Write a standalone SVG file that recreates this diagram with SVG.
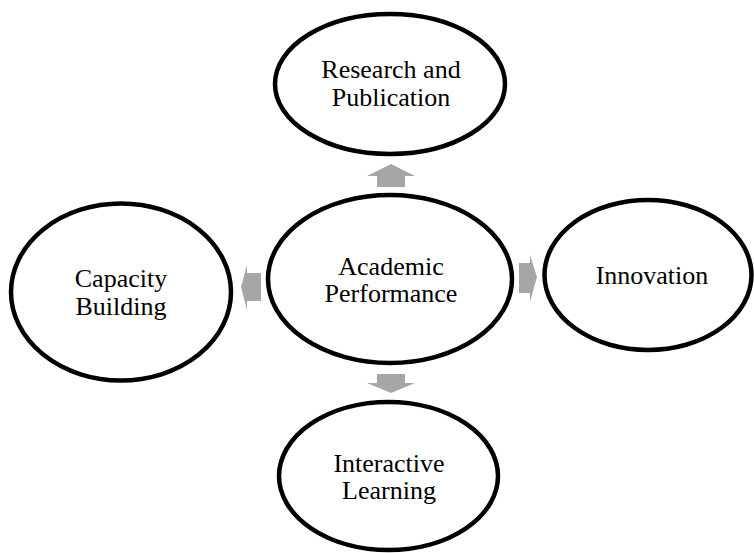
<svg xmlns="http://www.w3.org/2000/svg" width="754" height="553" viewBox="0 0 754 553">
<style>
.node ellipse{fill:#ffffff;stroke:#000000;stroke-width:4.5}
.node text{font-family:"Liberation Serif","Times New Roman",serif;font-size:26px;fill:#000000;text-anchor:middle}
.arrow{fill:#a6a6a6;stroke:none}
</style>
<rect width="754" height="553" fill="#ffffff"/>
<g id="connectors">
<polygon class="arrow" points="377,187 377,176 367,176 391,164 415,176 405,176 405,187"/>
<polygon class="arrow" points="377,374 405,374 405,383 415,383 391,393 367,383 377,383"/>
<polygon class="arrow" points="261,273 261,301 247,301 247,310 241,287 247,265 247,273"/>
<polygon class="arrow" points="519,263 530,263 530,255 537,277 530,302 530,293 519,293"/>
</g>
<g id="node-research" class="node">
<ellipse cx="390" cy="84" rx="115" ry="70"/>
<text x="391" y="78">Research and</text>
<text x="391" y="106">Publication</text>
</g>
<g id="node-academic" class="node">
<ellipse cx="390" cy="279" rx="122" ry="84"/>
<text x="391" y="275">Academic</text>
<text x="391" y="302">Performance</text>
</g>
<g id="node-capacity" class="node">
<ellipse cx="121" cy="292" rx="110" ry="88.5"/>
<text x="121" y="287">Capacity</text>
<text x="121" y="315">Building</text>
</g>
<g id="node-innovation" class="node">
<ellipse cx="648" cy="275" rx="103.5" ry="75"/>
<text x="652" y="284">Innovation</text>
</g>
<g id="node-interactive" class="node">
<ellipse cx="388.5" cy="476" rx="109.5" ry="74"/>
<text x="389" y="472">Interactive</text>
<text x="389" y="499">Learning</text>
</g>
</svg>
